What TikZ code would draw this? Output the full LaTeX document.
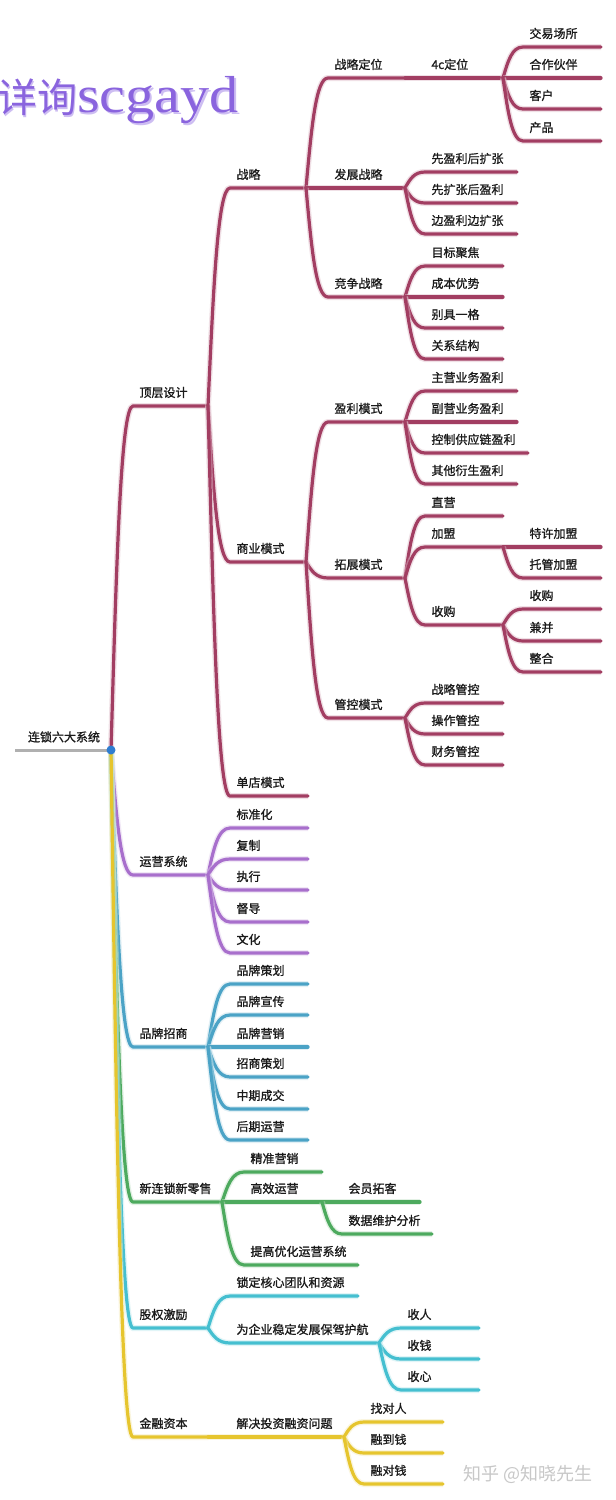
\documentclass[tikz,border=0pt]{standalone}
\usepackage{fontspec}
\usepackage{graphicx}
\newfontfamily\cjk[FakeBold=1.1]{Noto Sans CJK SC}
\newfontfamily\cjkw{Noto Sans CJK SC}
\newfontfamily\wmlat{Liberation Serif}
\usetikzlibrary{calc}
\definecolor{crim}{HTML}{A23E62}
\definecolor{purp}{HTML}{A86FCC}
\definecolor{blu}{HTML}{4BA3C6}
\definecolor{grn}{HTML}{4DAA5E}
\definecolor{cyn}{HTML}{45BFD0}
\definecolor{yel}{HTML}{E6C52E}
\definecolor{rootgray}{HTML}{B0B0B0}
\definecolor{dotblue}{HTML}{2F7DD1}
\definecolor{wmpurple}{HTML}{8A64DE}
\definecolor{wmglow}{HTML}{CDBDF2}
\definecolor{txt}{HTML}{1A1A1A}
\tikzset{
  lbl/.style={anchor=base west, inner sep=0pt, outer sep=0pt,
    font={\cjk\fontsize{12}{14}\selectfont}, text=txt},
  br/.style={draw=#1, line width=3.2pt, line cap=round, line join=round,
    preaction={draw=#1!35!white, line width=6pt, opacity=0.45}},
}
% style, parent fork, name, corner x, y, end x, text
\newcommand\tp[7]{%
  \coordinate (#3a) at (#4,#5);
  \coordinate (#3b) at (#6,#5);
  \draw[br=#1] let \p1=(#2), \p2=(#3a) in (\p1)
     .. controls ({\x1+0.25*(\x2-\x1)},{\y1+0.55*(\y2-\y1)}) and ({\x2-0.55*(\x2-\x1)},\y2) .. (\p2) -- (#3b);
  \node[lbl] (#3) at ({#4+6.5},{#5-9}) {#7};
}
\begin{document}
\begin{tikzpicture}[x=1pt,y=-1pt]
\useasboundingbox (0,0) rectangle (616,1500);
\fill[white] (0,0) rectangle (616,1500);

% watermark top
\node[anchor=base west, inner sep=0pt, text=wmglow] at (-1.5,114) {\cjkw\fontsize{40}{40}\selectfont 详询\wmlat\fontsize{52}{52}\selectfont\scalebox{1.12}[1]{scgayd}};
\node[anchor=base west, inner sep=0pt, text=wmpurple] (wm) at (-3,112) {\cjkw\fontsize{40}{40}\selectfont 详询\wmlat\fontsize{52}{52}\selectfont\scalebox{1.12}[1]{scgayd}};

% root
\coordinate (rootS) at (15,750);
\coordinate (R) at (111,750);
\draw[rootgray, line width=3pt] (rootS) -- (R);
\node[lbl] (root) at (28,741.5) {连锁六大系统};

% level 1
\tp{crim}{R}{dc}{133}{406}{208}{顶层设计}
\tp{purp}{R}{yy}{133}{875}{208}{运营系统}
\tp{blu}{R}{pp}{133}{1047}{208}{品牌招商}
\tp{grn}{R}{xl}{133}{1202}{222}{新连锁新零售}
\tp{cyn}{R}{gq}{133}{1328}{208}{股权激励}
\tp{yel}{R}{jr}{133}{1437}{208}{金融资本}

% 顶层设计
\tp{crim}{dcb}{zl}{230}{188}{306}{战略}
\tp{crim}{dcb}{sy}{230}{562}{306}{商业模式}
\tp{crim}{dcb}{dd}{230}{796}{308}{单店模式}

% 战略
\tp{crim}{zlb}{zd}{328}{78}{405}{战略定位}
\tp{crim}{zlb}{fz}{328}{188}{405}{发展战略}
\tp{crim}{zlb}{jz}{328}{297}{405}{竞争战略}

\tp{crim}{zdb}{fc}{425}{78}{503}{4c定位}
\tp{crim}{fcb}{jy}{523}{47}{601}{交易场所}
\tp{crim}{fcb}{hz}{523}{78}{601}{合作伙伴}
\tp{crim}{fcb}{kh}{523}{109}{601}{客户}
\tp{crim}{fcb}{cp}{523}{141}{601}{产品}

\tp{crim}{fzb}{fza}{425}{172}{517}{先盈利后扩张}
\tp{crim}{fzb}{fzc}{425}{203}{517}{先扩张后盈利}
\tp{crim}{fzb}{fzd}{425}{234}{517}{边盈利边扩张}

\tp{crim}{jzb}{jza}{425}{266}{503}{目标聚焦}
\tp{crim}{jzb}{jzc}{425}{297}{503}{成本优势}
\tp{crim}{jzb}{jzd}{425}{328}{503}{别具一格}
\tp{crim}{jzb}{jze}{425}{359}{503}{关系结构}

% 商业模式
\tp{crim}{syb}{yl}{328}{422}{405}{盈利模式}
\tp{crim}{syb}{tz}{328}{578}{405}{拓展模式}
\tp{crim}{syb}{gk}{328}{718}{405}{管控模式}

\tp{crim}{ylb}{yla}{425}{391}{517}{主营业务盈利}
\tp{crim}{ylb}{ylc}{425}{422}{517}{副营业务盈利}
\tp{crim}{ylb}{yld}{425}{453}{528}{控制供应链盈利}
\tp{crim}{ylb}{yle}{425}{484}{517}{其他衍生盈利}

\tp{crim}{tzb}{zy}{425}{516}{503}{直营}
\tp{crim}{tzb}{jm}{425}{547}{503}{加盟}
\tp{crim}{tzb}{sg}{425}{625}{503}{收购}
\tp{crim}{jmb}{jma}{523}{547}{601}{特许加盟}
\tp{crim}{jmb}{jmc}{523}{578}{601}{托管加盟}
\tp{crim}{sgb}{sga}{523}{609}{601}{收购}
\tp{crim}{sgb}{sgc}{523}{641}{601}{兼并}
\tp{crim}{sgb}{sgd}{523}{672}{601}{整合}

\tp{crim}{gkb}{gka}{425}{703}{503}{战略管控}
\tp{crim}{gkb}{gkc}{425}{734}{503}{操作管控}
\tp{crim}{gkb}{gkd}{425}{765}{503}{财务管控}

% 运营系统
\tp{purp}{yyb}{yya}{230}{828}{308}{标准化}
\tp{purp}{yyb}{yyc}{230}{859}{308}{复制}
\tp{purp}{yyb}{yyd}{230}{890}{308}{执行}
\tp{purp}{yyb}{yye}{230}{922}{308}{督导}
\tp{purp}{yyb}{yyf}{230}{953}{308}{文化}

% 品牌招商
\tp{blu}{ppb}{ppa}{230}{984}{308}{品牌策划}
\tp{blu}{ppb}{ppc}{230}{1015}{308}{品牌宣传}
\tp{blu}{ppb}{ppd}{230}{1047}{308}{品牌营销}
\tp{blu}{ppb}{ppe}{230}{1077}{308}{招商策划}
\tp{blu}{ppb}{ppf}{230}{1109}{308}{中期成交}
\tp{blu}{ppb}{ppg}{230}{1140}{308}{后期运营}

% 新连锁新零售
\tp{grn}{xlb}{xla}{244}{1172}{322}{精准营销}
\tp{grn}{xlb}{xlc}{244}{1202}{322}{高效运营}
\tp{grn}{xlb}{xld}{244}{1265}{358}{提高优化运营系统}
\tp{grn}{xlcb}{xlca}{342}{1202}{420}{会员拓客}
\tp{grn}{xlcb}{xlcc}{342}{1234}{432}{数据维护分析}

% 股权激励
\tp{cyn}{gqb}{gqa}{230}{1296}{358}{锁定核心团队和资源}
\tp{cyn}{gqb}{gqc}{230}{1343}{379}{为企业稳定发展保驾护航}
\tp{cyn}{gqcb}{gqca}{401}{1328}{479}{收人}
\tp{cyn}{gqcb}{gqcc}{401}{1359}{479}{收钱}
\tp{cyn}{gqcb}{gqcd}{401}{1390}{479}{收心}

% 金融资本
\tp{yel}{jrb}{jra}{230}{1437}{344}{解决投资融资问题}
\tp{yel}{jrab}{jraa}{364}{1422}{443}{找对人}
\tp{yel}{jrab}{jrac}{364}{1453}{443}{融到钱}
\tp{yel}{jrab}{jrad}{364}{1484}{443}{融对钱}

% root dot
\fill[dotblue] (R) circle (4.5);

% bottom watermark
\node[anchor=base west, inner sep=0pt, text={rgb,255:red,200;green,200;blue,200}] (zh) at (463,1480) {\cjkw\fontsize{18}{18}\selectfont 知乎 @知晓先生};
\end{tikzpicture}
\end{document}
